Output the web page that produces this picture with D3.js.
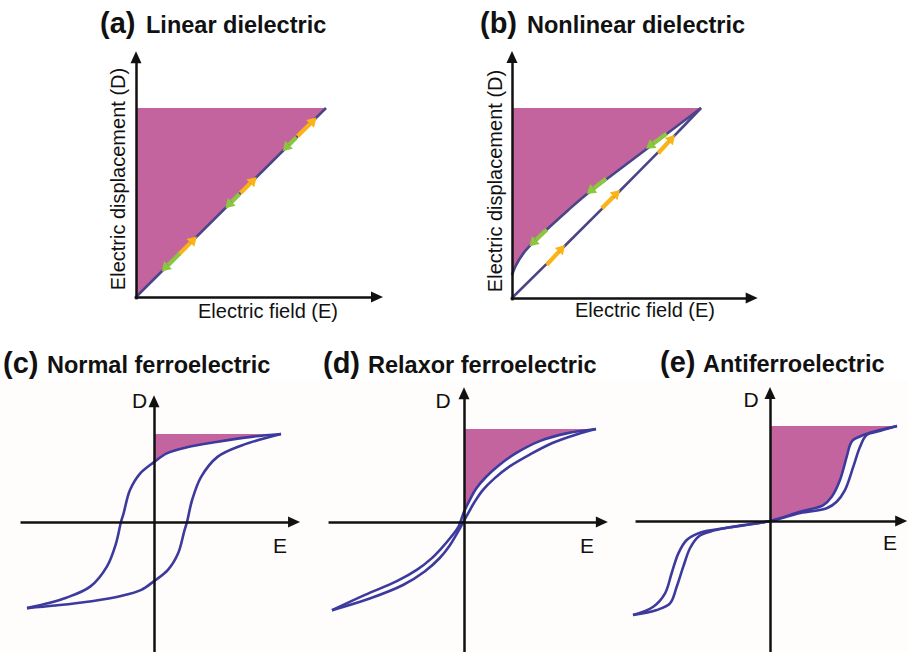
<!DOCTYPE html>
<html>
<head>
<meta charset="utf-8">
<style>
  body { margin: 0; background: #fff; }
  svg text { font-family: "Liberation Sans", Arial, sans-serif; fill: #111; }
  .title { font-weight: bold; font-size: 23.5px; }
  .tag { font-weight: bold; font-size: 29px; }
  .lab { font-size: 20px; }
  .axlab { font-size: 21px; }
  .axis path.domain { stroke: #111; stroke-width: 2.5; }
</style>
<script src="https://d3js.org/d3.v7.min.js"></script>
</head>
<body>
<svg width="908" height="652"></svg>
<script>
// ---------------- data (E, D in units of the saturation point) ----------------
var tags = ["(a)", "(b)", "(c)", "(d)", "(e)"];
var titles = ["Linear dielectric", "Nonlinear dielectric", "Normal ferroelectric",
              "Relaxor ferroelectric", "Antiferroelectric"];
var fieldLabel = "Electric field (E)";
var dispLabel = "Electric displacement (D)";
var dMax = 1;

// (a) linear dielectric: charge and discharge on the same line
var linearCharge = [[0, 0], [1, 1]];
var linearDischarge = [[1, 1], [0, 0]];
// arrows: [E0, D0, E1, D1]
var linearChargeArrows = [[0.225, 0.225, 0.32, 0.32], [0.55, 0.55, 0.635, 0.635], [0.85, 0.85, 0.95, 0.95]];
var linearDischargeArrows = [[0.23, 0.23, 0.135, 0.135], [0.545, 0.545, 0.47, 0.47], [0.845, 0.845, 0.772, 0.772]];

// (b) nonlinear dielectric
var nonlinCharge = [[0, 0], [0.28, 0.275], [0.57, 0.563], [0.86, 0.855], [1, 1]];
var nonlinDischarge = [[1, 1], [0.9, 0.925], [0.8, 0.85], [0.7, 0.775], [0.6, 0.7], [0.5, 0.625], [0.4, 0.55],
                       [0.3, 0.465], [0.2, 0.375], [0.12, 0.3], [0.06, 0.235], [0.02, 0.17], [0, 0.121]];
var nonlinChargeArrows = [[0.184, 0.174, 0.28, 0.279], [0.475, 0.472, 0.571, 0.568], [0.774, 0.762, 0.862, 0.858]];
var nonlinDischargeArrows = [[0.184, 0.36, 0.092, 0.272], [0.498, 0.628, 0.395, 0.548], [0.818, 0.865, 0.709, 0.785]];

// (c) normal ferroelectric loop
var feDown = [[1, 1], [0.78, 0.97], [0.49, 0.91], [0.26, 0.85], [0.1, 0.78], [0, 0.68], [-0.11, 0.55],
              [-0.19, 0.36], [-0.24, 0.095], [-0.26, 0], [-0.3, -0.25], [-0.37, -0.51], [-0.5, -0.74],
              [-0.69, -0.87], [-1, -0.99]];
var feUp = [[-1, -0.99], [-0.78, -0.96], [-0.49, -0.91], [-0.26, -0.85], [-0.1, -0.78], [0, -0.68],
            [0.11, -0.55], [0.19, -0.36], [0.24, -0.095], [0.26, 0], [0.3, 0.25], [0.37, 0.51],
            [0.5, 0.74], [0.69, 0.87], [1, 1]];

// (d) relaxor ferroelectric slim loop
var rfeDown = [[1, 1], [0.776, 0.953], [0.573, 0.87], [0.397, 0.743], [0.27, 0.616], [0.17, 0.489],
               [0.094, 0.363], [0.043, 0.236], [0, 0.109], [-0.045, -0.06], [-0.1, -0.17],
               [-0.17, -0.29], [-0.25, -0.41], [-0.355, -0.53], [-0.505, -0.655], [-0.75, -0.81], [-1, -0.98]];
var rfeUp = [[-1, -0.98], [-0.714, -0.85], [-0.462, -0.7], [-0.298, -0.55], [-0.184, -0.4],
             [-0.108, -0.26], [-0.058, -0.14], [-0.02, -0.04], [0.03, 0.091], [0.081, 0.217],
             [0.144, 0.345], [0.233, 0.472], [0.346, 0.598], [0.498, 0.725], [0.674, 0.852], [0.852, 0.942], [1, 1]];

// (e) antiferroelectric double loop
var afeDownPos = [[1, 1], [0.866, 0.958], [0.735, 0.905], [0.654, 0.853], [0.63, 0.8], [0.604, 0.677],
                  [0.551, 0.432], [0.486, 0.256], [0.42, 0.168], [0.236, 0.098], [0, 0]];
var afeDownNeg = [[0, 0], [-0.3, -0.07], [-0.511, -0.124], [-0.608, -0.202], [-0.669, -0.344],
                  [-0.718, -0.556], [-0.766, -0.769], [-0.852, -0.912], [-1, -1]];
var afeUpNeg = [[-1, -1], [-0.827, -0.947], [-0.73, -0.876], [-0.681, -0.699], [-0.633, -0.486],
                [-0.584, -0.29], [-0.523, -0.167], [-0.438, -0.114], [-0.268, -0.06], [0, 0]];
var afeUpPos = [[0, 0], [0.24, 0.085], [0.446, 0.134], [0.525, 0.203], [0.59, 0.326], [0.656, 0.572],
                [0.709, 0.782], [0.761, 0.905], [0.87, 0.95], [1, 1]];

// ---------------- layout ----------------
var fillColor = "#c4649f", topLine = "#4a4489", loopLine = "#3d3a9e";
var yellow = "#fbb416", green = "#8cc63f";

var panels = [
  { xd: [0, 1], xr: [136, 326], yd: [0, 1], yr: [297, 108], xAxis: [-0.01, 1.3], yAxis: [-0.01, 1.3],
    tag: [100, 33], title: 146,
    curves: [linearCharge], stroke: topLine, fill: linearDischarge,
    arrows: [[linearChargeArrows, yellow], [linearDischargeArrows, green]],
    xlab: [268, 318], ylab: [125, 179] },
  { xd: [0, 1], xr: [512, 701], yd: [0, 1], yr: [298, 108], xAxis: [-0.01, 1.3], yAxis: [-0.01, 1.3],
    tag: [480, 33], title: 527,
    curves: [nonlinCharge, nonlinDischarge], stroke: topLine, fill: nonlinDischarge,
    arrows: [[nonlinChargeArrows, yellow], [nonlinDischargeArrows, green]],
    xlab: [645, 317], ylab: [502, 181] },
  { xd: [-1, 0, 1], xr: [27, 154, 281], yd: [-1, 0, 1], yr: [609, 522, 434], xAxis: [-1.055, 1.15], yAxis: [-1.5, 1.44],
    tag: [3, 373], title: 47,
    curves: [feDown, feUp], stroke: loopLine, fill: feDown.filter(function(d) { return d[0] >= 0; }),
    arrows: [], dlab: [139.5, 408], elab: [280, 553] },
  { xd: [-1, 0, 1], xr: [332, 464, 596], yd: [-1, 0, 1], yr: [612, 522, 429], xAxis: [-1.03, 1.09], yAxis: [-1.45, 1.45],
    tag: [323, 373], title: 368,
    curves: [rfeDown, rfeUp], stroke: loopLine, fill: rfeDown.filter(function(d) { return d[0] >= 0; }),
    arrows: [], dlab: [443, 408], elab: [587, 553] },
  { xd: [-1, 0, 1], xr: [633, 770, 897], yd: [-1, 0, 1], yr: [615, 521, 426], xAxis: [-0.985, 1.08], yAxis: [-1.4, 1.41],
    tag: [660, 372], title: 703,
    curves: [afeDownPos.concat(afeDownNeg.slice(1)), afeUpNeg.concat(afeUpPos.slice(1))], stroke: loopLine,
    fill: afeDownPos, arrows: [], dlab: [751, 407], elab: [890, 550] }
];

var svg = d3.select("svg");

// faint background behind the lower row
svg.append("rect").attr("x", 0).attr("y", 380).attr("width", 908).attr("height", 272).attr("fill", "#fefdfb");

function head(g, tip, from, len, half, color) {
  var dx = tip[0] - from[0], dy = tip[1] - from[1], L = Math.sqrt(dx * dx + dy * dy);
  var ux = dx / L, uy = dy / L;
  var bx = tip[0] - ux * len, by = tip[1] - uy * len;
  g.append("polygon")
    .attr("points", [tip, [bx - uy * half, by + ux * half], [bx + uy * half, by - ux * half]]
      .map(function(p) { return p.join(","); }).join(" "))
    .attr("fill", color);
  return [bx, by];
}

panels.forEach(function(p, i) {
  var g = svg.append("g");
  var x = d3.scaleLinear().domain(p.xd).range(p.xr);
  var y = d3.scaleLinear().domain(p.yd).range(p.yr);
  var line = d3.line().x(function(d) { return x(d[0]); }).y(function(d) { return y(d[1]); })
    .curve(d3.curveCatmullRom.alpha(0.5));

  // stored energy area: D axis up to dMax, across, then back along the discharge branch
  var branch = line(p.fill);
  g.append("path")
    .attr("d", "M" + x(0) + "," + y(dMax) + "L" + branch.slice(1) + "Z")
    .attr("fill", fillColor);

  // curves
  p.curves.forEach(function(c) {
    g.append("path").attr("d", line(c)).attr("fill", "none")
      .attr("stroke", p.stroke).attr("stroke-width", 2.6).attr("stroke-linejoin", "round");
  });

  // charge / discharge arrows
  p.arrows.forEach(function(a) {
    a[0].forEach(function(d) {
      var tail = [x(d[0]), y(d[1])], tip = [x(d[2]), y(d[3])];
      var base = head(g, tip, tail, 9, 5.5, a[1]);
      g.append("line").attr("x1", tail[0]).attr("y1", tail[1]).attr("x2", base[0]).attr("y2", base[1])
        .attr("stroke", a[1]).attr("stroke-width", 4.2);
    });
  });

  // axes, drawn with d3 axes without ticks, plus arrow heads
  var xEnd = x(p.xAxis[1]), yEnd = y(p.yAxis[1]);
  var xa = d3.scaleLinear().domain(p.xAxis).range([x(p.xAxis[0]), xEnd - 8]);
  var ya = d3.scaleLinear().domain(p.yAxis).range([y(p.yAxis[0]), yEnd + 8]);
  g.append("g").attr("class", "axis").attr("transform", "translate(0," + y(0) + ")")
    .call(d3.axisBottom(xa).tickValues([]).tickSizeOuter(0));
  g.append("g").attr("class", "axis").attr("transform", "translate(" + x(0) + ",0)")
    .call(d3.axisLeft(ya).tickValues([]).tickSizeOuter(0));
  head(g, [xEnd, y(0)], [0, y(0)], 12, 5.5, "#111");
  head(g, [x(0), yEnd], [x(0), 1000], 12, 5.5, "#111");

  // title
  var t = g.append("text").attr("y", p.tag[1]);
  t.append("tspan").attr("class", "tag").attr("x", p.tag[0]).text(tags[i]);
  t.append("tspan").attr("class", "title").attr("x", p.title).text(titles[i]);

  // axis labels
  if (p.xlab) {
    g.append("text").attr("class", "lab").attr("x", p.xlab[0]).attr("y", p.xlab[1])
      .attr("text-anchor", "middle").text(fieldLabel);
    g.append("text").attr("class", "lab").attr("text-anchor", "middle")
      .attr("transform", "translate(" + p.ylab[0] + "," + p.ylab[1] + ") rotate(-90)").text(dispLabel);
  } else {
    g.append("text").attr("class", "axlab").attr("x", p.dlab[0]).attr("y", p.dlab[1])
      .attr("text-anchor", "middle").text("D");
    g.append("text").attr("class", "axlab").attr("x", p.elab[0]).attr("y", p.elab[1])
      .attr("text-anchor", "middle").text("E");
  }
});
</script>
</body>
</html>
